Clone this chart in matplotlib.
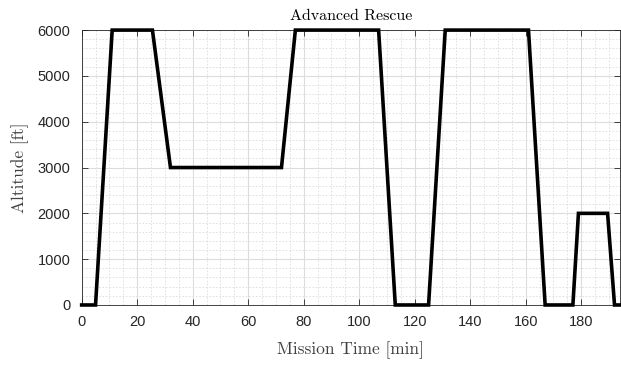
import numpy as np
import matplotlib
matplotlib.use("Agg")
import matplotlib.pyplot as plt
from matplotlib.ticker import MultipleLocator

# Mission profile breakpoints
time_min = [0, 5, 11, 25.5, 32, 72, 77, 107, 113, 125, 131, 161, 167, 177, 179, 189.5, 192, 194]
altitude_ft = [0, 0, 6000, 6000, 3000, 3000, 6000, 6000, 0, 0, 6000, 6000, 0, 0, 2000, 2000, 0, 0]

title = "Advanced Rescue"
xlabel = "Mission Time [min]"
ylabel = "Altitude [ft]"

axcol = "#262626"

fig = plt.figure(figsize=(6.21, 3.67), dpi=100)
ax = fig.add_axes([0.1315, 0.169, 0.867, 0.749])

ax.plot(time_min, altitude_ft, color="black", linewidth=2.6,
        solid_joinstyle="miter", zorder=3, clip_on=False)

ax.set_xlim(0, max(time_min))
ax.set_ylim(0, 6000)
ax.xaxis.set_major_locator(MultipleLocator(20))
ax.xaxis.set_minor_locator(MultipleLocator(5))
ax.yaxis.set_major_locator(MultipleLocator(1000))
ax.yaxis.set_minor_locator(MultipleLocator(200))

ax.grid(which="major", color="#dcdcdc", linewidth=0.8, linestyle="-")
ax.grid(which="minor", color="#dcdcdc", linewidth=0.6, linestyle=(0, (2, 2)))
ax.set_axisbelow(True)

ax.tick_params(which="both", direction="in", top=True, right=True, colors=axcol, labelsize=10.5)
ax.tick_params(axis="x", which="major", length=4, width=0.6, pad=7)
ax.tick_params(axis="y", which="major", length=4, width=0.6, pad=8)
ax.tick_params(which="minor", length=0)
for lbl in ax.get_xticklabels() + ax.get_yticklabels():
    lbl.set_fontfamily("Liberation Sans")
for s in ax.spines.values():
    s.set_color(axcol)
    s.set_linewidth(0.6)

ax.set_title(title, fontfamily="cmr10", fontsize=11.5, color="black", pad=7)
ax.set_xlabel(xlabel, fontfamily="cmr10", fontsize=12.5, color="#404040", labelpad=9)
ax.set_ylabel(ylabel, fontfamily="cmr10", fontsize=12.5, color="#404040", labelpad=6)

fig.savefig("out.png", dpi=100)
